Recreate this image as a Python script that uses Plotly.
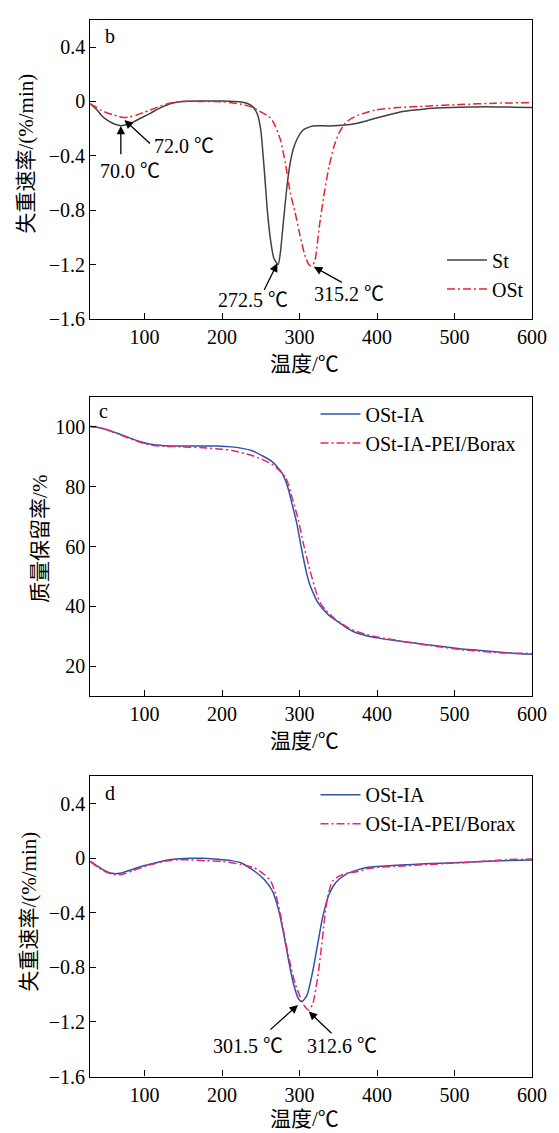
import plotly.graph_objects as go

W, H = 559, 1133

# ---------------- data ----------------
temp_b_st = [30, 40, 44, 50, 57, 63, 70, 78, 86, 96, 107, 117, 128, 138, 149, 170, 200, 225, 233, 240, 246,
             250, 254.5, 258.7, 263, 267, 272.5, 275.4, 279.6, 283.9, 288, 292, 296.4, 304.7, 317, 338, 359,
             376, 397, 417, 430, 445, 462, 485, 507, 530, 552, 575, 600]
rate_b_st = [-0.015, -0.07, -0.10, -0.13, -0.155, -0.17, -0.178, -0.168, -0.15, -0.12, -0.089, -0.057, -0.028,
             -0.01, 0.0, 0.003, 0.003, -0.004, -0.015, -0.04, -0.10, -0.21, -0.50, -0.816, -1.034, -1.155, -1.20,
             -1.107, -0.864, -0.62, -0.452, -0.35, -0.282, -0.21, -0.18, -0.18, -0.173, -0.158, -0.125, -0.096,
             -0.078, -0.065, -0.055, -0.047, -0.042, -0.04, -0.04, -0.042, -0.045]

temp_b_ost = [30, 37, 44, 52, 61, 67, 73, 81, 90, 98, 107, 117, 128, 138, 149, 175, 200, 212, 225, 238, 250,
              261, 265, 269, 275.4, 281.7, 288, 294.3, 300.6, 306.8, 312, 315.2, 319.4, 325.7, 332, 338.2, 344.5,
              350.8, 359, 367, 376, 397, 426, 462, 507, 552, 600]
rate_b_ost = [-0.02, -0.04, -0.064, -0.085, -0.10, -0.112, -0.118, -0.113, -0.10, -0.083, -0.064, -0.042, -0.02,
              -0.007, 0.0, 0.0, -0.002, -0.01, -0.02, -0.04, -0.076, -0.113, -0.14, -0.185, -0.282, -0.452, -0.67,
              -0.816, -0.985, -1.13, -1.20, -1.21, -1.18, -0.913, -0.67, -0.476, -0.33, -0.234, -0.16, -0.125,
              -0.10, -0.064, -0.045, -0.035, -0.023, -0.013, -0.009]

temp_c_ia = [30, 40, 50, 60, 67, 75, 85, 95, 103, 115, 126, 150, 193, 212.7, 237.8, 254.5, 265, 271.3, 277,
             281.7, 286, 290.1, 296.4, 302.7, 309, 313, 317.3, 323, 329.8, 338, 346.6, 355, 363, 372, 385, 399,
             430, 462, 485, 507, 530, 552, 575, 600]
mass_c_ia = [100.1, 99.8, 99.2, 98.3, 97.7, 96.9, 95.9, 95.0, 94.4, 93.9, 93.7, 93.6, 93.6, 93.3, 92.1, 90.0,
             88.3, 86.6, 84.8, 82.2, 78.8, 74.5, 67.9, 59.1, 51.3, 47.5, 44.7, 41.6, 39.2, 37.0, 35.4, 33.9, 32.5,
             31.3, 30.3, 29.5, 28.4, 27.3, 26.6, 25.9, 25.4, 24.9, 24.4, 24.0]

temp_c_borax = [30, 40, 50, 60, 67, 75, 85, 95, 103, 115, 126, 150, 175, 200, 212.7, 237.8, 254.5, 265, 271.3,
                281.7, 286, 290.1, 298.4, 304.7, 313.1, 321.5, 327, 334.1, 346.6, 355, 363, 372, 385, 400, 430,
                462, 485, 507, 530, 552, 575, 600]
mass_c_borax = [100.1, 99.8, 99.1, 98.2, 97.5, 96.7, 95.7, 94.8, 94.2, 93.7, 93.5, 93.3, 93.0, 92.5, 92.1, 90.5,
                88.8, 87.4, 86.1, 83.3, 80.5, 76.7, 69.0, 61.3, 52.4, 44.7, 41.0, 38.7, 35.6, 34.2, 32.9, 31.8,
                30.7, 29.8, 28.5, 27.2, 26.4, 25.6, 25.1, 24.6, 24.4, 24.3]

temp_d_ia = [30, 40, 50, 58, 65, 72, 85, 100, 115, 130, 145, 160, 175, 190, 200, 212, 225.2, 242, 254.5, 265,
             273.3, 279.6, 285.9, 292.1, 298.4, 303, 309.7, 317.3, 323.5, 329.8, 338.2, 346.6, 359.2, 375.9, 388.4,
             400, 430, 462, 500, 529, 560, 600]
rate_d_ia = [-0.02, -0.06, -0.095, -0.11, -0.112, -0.105, -0.08, -0.053, -0.032, -0.013, -0.003, 0.0, 0.0,
             -0.005, -0.01, -0.017, -0.034, -0.095, -0.155, -0.24, -0.385, -0.555, -0.749, -0.918, -1.027, -1.052,
             -1.003, -0.821, -0.627, -0.433, -0.264, -0.179, -0.119, -0.083, -0.066, -0.06, -0.05, -0.04, -0.032,
             -0.025, -0.018, -0.012]

temp_d_borax = [30, 40, 50, 58, 66, 75, 85, 100, 115, 130, 145, 160, 180, 200, 225.2, 242, 254.5, 262.9, 269.2,
                275.4, 281.7, 288, 294.3, 300.6, 306.8, 312.2, 317.3, 323.5, 327.8, 332, 336.1, 342.4, 350.8,
                363.3, 375.9, 388.4, 400, 430, 462, 500, 529, 560, 600]
rate_d_borax = [-0.025, -0.065, -0.10, -0.115, -0.12, -0.112, -0.09, -0.06, -0.036, -0.018, -0.01, -0.012,
                -0.018, -0.022, -0.046, -0.07, -0.119, -0.168, -0.264, -0.41, -0.603, -0.773, -0.918, -1.014,
                -1.087, -1.112, -1.063, -0.869, -0.676, -0.458, -0.288, -0.168, -0.131, -0.107, -0.097, -0.075,
                -0.067, -0.058, -0.047, -0.035, -0.025, -0.012, -0.005]

rate_ticks = [-1.6, -1.2, -0.8, -0.4, 0, 0.4]
rate_ticktext = ["\u22121.6", "\u22121.2", "\u22120.8", "\u22120.4", "0", "0.4"]
mass_ticks = [20, 40, 60, 80, 100]
temp_ticks = [100, 200, 300, 400, 500, 600]

# ---------------- styling ----------------
FONT = "Liberation Serif, Noto Sans CJK SC, serif"
TICKSIZE = 20
TITLESIZE = 21
C_ST = "#404040"
C_OST = "#e5242c"
C_IA = "#2c54a8"
C_BX = "#e8246e"
DASHDOT = "8px,3px,2px,3px"

fig = go.Figure()

fig.add_trace(go.Scatter(x=temp_b_st, y=rate_b_st, name="St", mode="lines",
                         line=dict(color=C_ST, width=1.5, shape="spline", smoothing=0.6),
                         xaxis="x", yaxis="y", legend="legend"))
fig.add_trace(go.Scatter(x=temp_b_ost, y=rate_b_ost, name="OSt", mode="lines",
                         line=dict(color=C_OST, width=1.5, dash=DASHDOT, shape="spline", smoothing=0.6),
                         xaxis="x", yaxis="y", legend="legend"))
fig.add_trace(go.Scatter(x=temp_c_ia, y=mass_c_ia, name="OSt-IA", mode="lines",
                         line=dict(color=C_IA, width=1.5, shape="spline", smoothing=0.6),
                         xaxis="x2", yaxis="y2", legend="legend2"))
fig.add_trace(go.Scatter(x=temp_c_borax, y=mass_c_borax, name="OSt-IA-PEI/Borax", mode="lines",
                         line=dict(color=C_BX, width=1.5, dash=DASHDOT, shape="spline", smoothing=0.6),
                         xaxis="x2", yaxis="y2", legend="legend2"))
fig.add_trace(go.Scatter(x=temp_d_ia, y=rate_d_ia, name="OSt-IA", mode="lines",
                         line=dict(color=C_IA, width=1.5, shape="spline", smoothing=0.6),
                         xaxis="x3", yaxis="y3", legend="legend3"))
fig.add_trace(go.Scatter(x=temp_d_borax, y=rate_d_borax, name="OSt-IA-PEI/Borax", mode="lines",
                         line=dict(color=C_BX, width=1.5, dash=DASHDOT, shape="spline", smoothing=0.6),
                         xaxis="x3", yaxis="y3", legend="legend3"))

def py2paper(py):
    return 1 - py / H

def px2paper(px):
    return px / W

xdom = [px2paper(84.5), px2paper(538.5)]
ax_common = dict(showline=True, linecolor="black", linewidth=1.2, mirror=True, ticks="inside",
                 ticklen=6, tickwidth=1.2, tickcolor="black", showgrid=False, zeroline=False,
                 tickfont=dict(family=FONT, size=TICKSIZE, color="black"))

layout = dict(
    width=W, height=H, margin=dict(l=0, r=0, t=0, b=0),
    paper_bgcolor="white", plot_bgcolor="white",
    font=dict(family=FONT, size=TICKSIZE, color="black"),
    xaxis=dict(domain=xdom, range=[30, 600], tickvals=temp_ticks, anchor="y", **ax_common),
    yaxis=dict(domain=[py2paper(314), py2paper(12)], range=[-1.6, 0.6], tickvals=rate_ticks,
               ticktext=rate_ticktext, anchor="x", **ax_common),
    xaxis2=dict(domain=xdom, range=[30, 600], tickvals=temp_ticks, anchor="y2", **ax_common),
    yaxis2=dict(domain=[py2paper(695), py2paper(392.7)], range=[10, 110], tickvals=mass_ticks,
                anchor="x2", **ax_common),
    xaxis3=dict(domain=xdom, range=[30, 600], tickvals=temp_ticks, anchor="y3", **ax_common),
    yaxis3=dict(domain=[py2paper(1079), py2paper(776)], range=[-1.6, 0.6], tickvals=rate_ticks,
                ticktext=rate_ticktext, anchor="x3", **ax_common),
)

leg_common = dict(bgcolor="rgba(0,0,0,0)", borderwidth=0, font=dict(family=FONT, size=TICKSIZE, color="black"),
                  xanchor="left", yanchor="middle", itemwidth=40, tracegroupgap=0, traceorder="normal")
layout["legend"] = dict(x=px2paper(446), y=py2paper(269), **leg_common)
layout["legend2"] = dict(x=px2paper(316), y=py2paper(424.5), **leg_common)
layout["legend3"] = dict(x=px2paper(316), y=py2paper(809), **leg_common)
fig.update_layout(**layout)

ann = []
def text_paper(px, py, t, size=TICKSIZE, angle=0):
    ann.append(dict(x=px2paper(px), y=py2paper(py), xref="paper", yref="paper", text=t, showarrow=False,
                    font=dict(family=FONT, size=size, color="black"), textangle=angle,
                    xanchor="center", yanchor="middle"))

# panel letters
text_paper(105, 28, "b")
text_paper(98, 407, "c")
text_paper(105, 793, "d")
# axis titles
text_paper(305, 359, "温度/℃", TITLESIZE)
text_paper(305, 740, "温度/℃", TITLESIZE)
text_paper(305, 1122, "温度/℃", TITLESIZE)
text_paper(18.5, 147, "失重速率/(%/min)", TITLESIZE, -90)
text_paper(33, 536, "质量保留率/%", TITLESIZE, -90)
text_paper(22, 912, "失重速率/(%/min)", TITLESIZE, -90)

def arrow(xr, yr, hx, hy, tx, ty):
    ann.append(dict(x=hx, y=hy, ax=tx, ay=ty, xref=xr, yref=yr, axref=xr, ayref=yr, text="",
                    showarrow=True, arrowhead=2, arrowsize=1.3, arrowwidth=1.3, arrowcolor="black"))

def label(xr, yr, x, y, t):
    ann.append(dict(x=x, y=y, xref=xr, yref=yr, text=t, showarrow=False,
                    font=dict(family=FONT, size=TICKSIZE, color="black"), xanchor="center", yanchor="middle"))

# panel b
arrow("x", "y", 69.5, -0.18, 69.5, -0.40)
label("x", "y", 81, -0.513, "70.0 ℃")
arrow("x", "y", 74.1, -0.137, 109.1, -0.319)
label("x", "y", 150.4, -0.33, "72.0 ℃")
arrow("x", "y", 271.4, -1.19, 253.5, -1.398)
label("x", "y", 240, -1.458, "272.5 ℃")
arrow("x", "y", 318.5, -1.216, 356.6, -1.337)
label("x", "y", 363.3, -1.417, "315.2 ℃")
# panel d
arrow("x3", "y3", 298, -1.075, 260.4, -1.266)
label("x3", "y3", 233.3, -1.373, "301.5 ℃")
arrow("x3", "y3", 311.9, -1.123, 343.2, -1.293)
label("x3", "y3", 354.4, -1.376, "312.6 ℃")

fig.update_layout(annotations=ann)
fig.write_html("out.html")
